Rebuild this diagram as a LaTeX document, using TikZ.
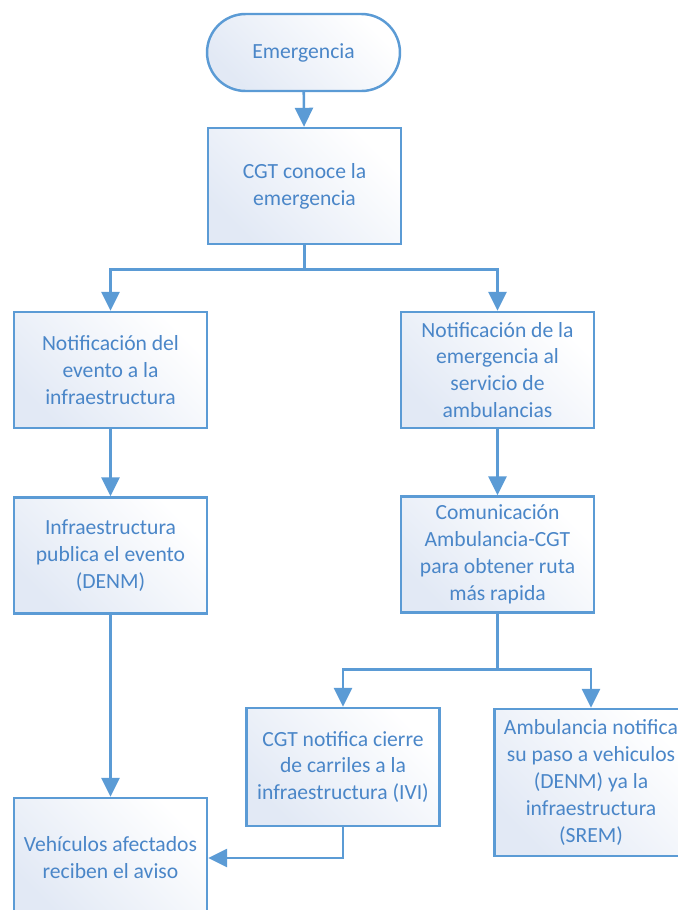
\documentclass[tikz,border=0pt]{standalone}
\usepackage{fontspec}
\setmainfont{Carlito}
\usepackage{tikz}
\usetikzlibrary{arrows.meta}
\definecolor{lineblue}{HTML}{5B9BD5}
\definecolor{textblue}{HTML}{4A86C8}
\definecolor{fillblue}{HTML}{E2E9F5}

\begin{document}
\begin{tikzpicture}[
  x=0.02cm, y=-0.02cm,
  every node/.style={font=\fontsize{12.3}{15.3}\selectfont, text=textblue, align=center},
  stepbox/.style={draw=lineblue, line width=1.4pt, top color=fillblue, bottom color=white,
    shading angle=135, minimum width=3.86cm, minimum height=2.32cm, inner sep=2pt},
  startbox/.style={stepbox, rounded corners=0.77cm, minimum height=1.54cm},
  conn/.style={draw=lineblue, line width=1.5pt, -{Triangle[width=0.36cm,length=0.38cm]}},
]
\useasboundingbox (0,0) rectangle (678,910);
\clip (0,0) rectangle (678,910);

% ---------- top ----------
\node[startbox] (emer) at (303.5,52.5) {Emergencia};
\node[stepbox] (cgt) at (304.5,186) {CGT conoce la\\emergencia};

% ---------- left branch ----------
\node[stepbox] (notev) at (110.5,370) {Notificación del\\evento a la\\infraestructura};
\node[stepbox] (publ) at (110.5,555.5) {Infraestructura\\publica el evento\\(DENM)};
\node[stepbox, minimum height=2.4cm] (vehic) at (110.5,858) {Vehículos afectados\\reciben el aviso};

% ---------- right branch ----------
\node[stepbox] (notamb) at (497.5,370) {Notificación de la\\emergencia al\\servicio de\\ambulancias};
\node[stepbox] (comu) at (497.5,554.5) {Comunicación\\Ambulancia-CGT\\para obtener ruta\\más rapida};
\node[stepbox, minimum height=2.36cm] (cierre) at (343,767) {CGT notifica cierre\\de carriles a la\\infraestructura (IVI)};
\node[stepbox, minimum height=2.94cm] (ambnot) at (591,782.5) {Ambulancia notifica\\su paso a vehiculos\\(DENM) ya la\\infraestructura\\(SREM)};

% ---------- connectors ----------
\draw[conn] (emer) -- (cgt);
\draw[conn] (cgt.south) -- ++(0,24) -| (notev.north);
\draw[conn] (cgt.south) -- ++(0,24) -| (notamb.north);
\draw[conn] (notev) -- (publ);
\draw[conn] (publ) -- (vehic);
\draw[conn] (notamb) -- (comu);
\draw[conn] (comu.south) -- ++(0,56) -| (cierre.north);
\draw[conn] (comu.south) -- ++(0,56) -| (ambnot.north);
\draw[conn] (cierre.south) |- (vehic.east);
\end{tikzpicture}
\end{document}
